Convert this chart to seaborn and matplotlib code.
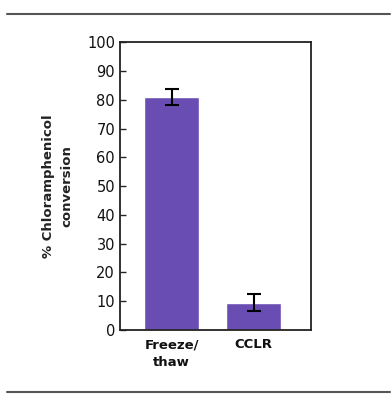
import pandas as pd
import numpy as np
import matplotlib.pyplot as plt
import seaborn as sns
from matplotlib.lines import Line2D

methods = ["Freeze/\nthaw", "CCLR"]
conversion = [81, 9.5]
conversion_err = [2.8, 3.0]

sns.set_style("ticks")
plt.rcParams['font.family'] = ['DejaVu Sans']

df = pd.DataFrame({"method": methods, "conversion": conversion})

fig = plt.figure(figsize=(3.92, 3.98), dpi=100)
ax = fig.add_axes([0.306, 0.171, 0.487, 0.723])

sns.barplot(x="method", y="conversion", data=df, color="#6a4db3",
            saturation=1, width=0.67, errorbar=None, ax=ax)
ax.errorbar(range(len(methods)), conversion, yerr=conversion_err, fmt="none",
            ecolor="black", elinewidth=1.5, capsize=5, capthick=1.5)

ax.set_ylim(0, 100)
ax.set_xlim(-0.63, 1.7)
ax.set_yticks(np.arange(0, 101, 10))
ax.tick_params(axis="y", direction="in", length=4, labelsize=10.5, width=1,
               labelcolor="#111111")
ax.tick_params(axis="x", length=0, labelsize=9.5, pad=6, labelcolor="#111111")
for lbl in ax.get_xticklabels():
    lbl.set_fontweight("bold")
    lbl.set_linespacing(1.5)
ax.set_xlabel("")
ax.set_ylabel("% Chloramphenicol\nconversion", fontsize=9.5, labelpad=10,
              fontweight="bold", linespacing=1.5, color="#222222")
for s in ax.spines.values():
    s.set_visible(True)
    s.set_linewidth(1.3)
    s.set_color("#222222")

fig.add_artist(Line2D([0.018, 0.995], [0.965, 0.965], color="#555555", lw=1.5))
fig.add_artist(Line2D([0.018, 0.995], [0.016, 0.016], color="#555555", lw=1.5))

plt.savefig("out.png", dpi=100)
